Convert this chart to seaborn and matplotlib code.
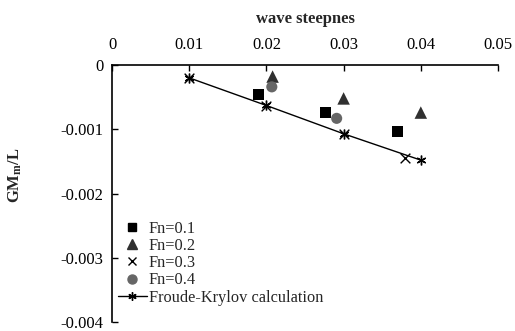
import numpy as np
import pandas as pd
import seaborn as sns
import matplotlib.pyplot as plt
from matplotlib.lines import Line2D

# values
fn01_x = [0.0190, 0.0277, 0.0370]
fn01_y = [-0.00046, -0.00074, -0.00104]
fn02_x = [0.0208, 0.0300, 0.0400]
fn02_y = [-0.00018, -0.00052, -0.00074]
fn03_x = [0.0100, 0.0200, 0.0300, 0.0380]
fn03_y = [-0.00020, -0.00064, -0.00108, -0.00145]
fn04_x = [0.0207, 0.0291]
fn04_y = [-0.00034, -0.00083]
fk_x = [0.010, 0.020, 0.030, 0.040]
fk_y = [-0.00020, -0.00063, -0.00107, -0.00148]

x_ticks = [0, 0.01, 0.02, 0.03, 0.04, 0.05]
y_ticks = [0, -0.001, -0.002, -0.003, -0.004]

sns.set_style("white")
plt.rcParams["font.family"] = ["Liberation Serif", "DejaVu Serif"]
plt.rcParams["mathtext.fontset"] = "custom"
plt.rcParams["mathtext.rm"] = "Liberation Serif"
plt.rcParams["mathtext.bf"] = "Liberation Serif:bold"

fig = plt.figure(figsize=(5.15, 3.31), dpi=100)
ax = fig.add_axes([0.2175, 0.027, 0.7495, 0.7766])

fk = pd.DataFrame({"x": fk_x, "y": fk_y})
sns.lineplot(data=fk, x="x", y="y", ax=ax, color="black", lw=1.0,
             marker=(6, 2, 0), markersize=7, markeredgewidth=1.0,
             markeredgecolor="black", zorder=2)

series = [
    (fn01_x, fn01_y, "s", "#000000", 8),
    (fn02_x, fn02_y, "^", "#303030", 9),
    (fn03_x, fn03_y, "x", "#000000", 7),
    (fn04_x, fn04_y, "o", "#666666", 8),
]
for xs, ys, m, c, s in series:
    kw = dict(edgecolor="none") if m != "x" else dict(linewidths=1.0)
    sns.scatterplot(x=xs, y=ys, ax=ax, marker=m, color=c, s=s ** 2, zorder=3, **kw)

ax.set_xlim(0, 0.05)
ax.set_ylim(-0.004, 0)
ax.set_xticks(x_ticks)
ax.set_xticklabels(["0", "0.01", "0.02", "0.03", "0.04", "0.05"])
ax.set_yticks(y_ticks)
ax.set_yticklabels(["0", "-0.001", "-0.002", "-0.003", "-0.004"])
ax.xaxis.tick_top()
ax.xaxis.set_label_position("top")
ax.tick_params(axis="both", direction="in", length=4, width=1, labelsize=12,
               colors="black", pad=6)
ax.tick_params(axis="x", top=True, bottom=False, pad=9)
ax.tick_params(axis="y", left=True, right=False)
for side in ["right", "bottom"]:
    ax.spines[side].set_visible(False)
for side in ["top", "left"]:
    ax.spines[side].set_color("black")
    ax.spines[side].set_linewidth(1.2)

ax.set_xlabel("wave steepnes", fontsize=12, fontweight="bold", labelpad=10)
ax.set_ylabel(r"$\mathbf{GM_m/L}$", fontsize=12)
ax.yaxis.set_label_coords(-0.228, 0.57)

handles = [
    Line2D([], [], ls="none", marker="s", color="#000000", markersize=6),
    Line2D([], [], ls="none", marker="^", color="#303030", markersize=6.5),
    Line2D([], [], ls="none", marker="x", color="#000000", markersize=6),
    Line2D([], [], ls="none", marker="o", color="#666666", markersize=6.5),
    Line2D([], [], color="black", lw=1.0, marker=(6, 2, 0), markersize=6),
]
labels = ["Fn=0.1", "Fn=0.2", "Fn=0.3", "Fn=0.4", "Froude-Krylov calculation"]
ax.legend(handles, labels, loc="lower left", bbox_to_anchor=(-0.01, 0.025),
          frameon=False, fontsize=11.8, handlelength=1.75, handletextpad=0.12,
          labelspacing=0.08, borderaxespad=0.2)

fig.savefig("out.png", dpi=100)
